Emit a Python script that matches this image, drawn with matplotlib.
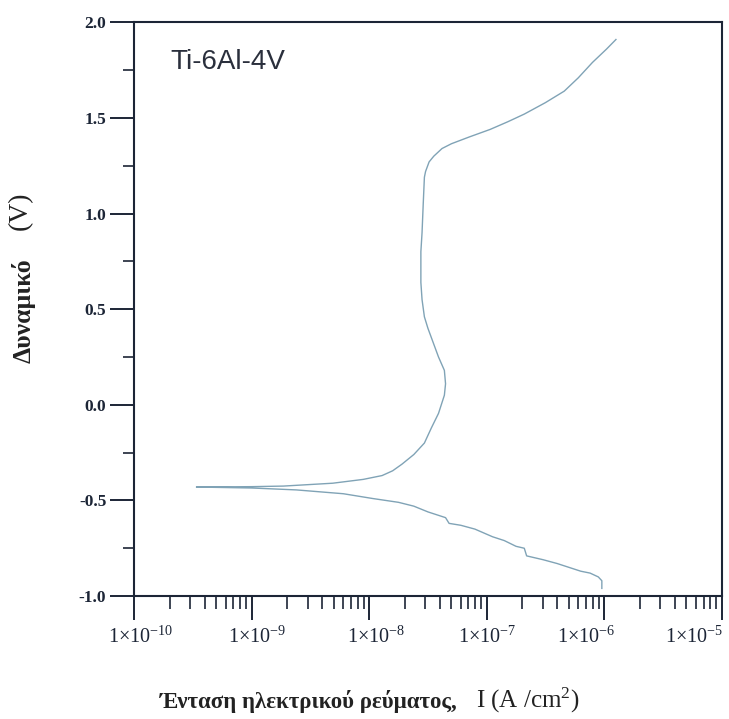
import numpy as np
import matplotlib
matplotlib.use("Agg")
import matplotlib.pyplot as plt
from matplotlib.ticker import FixedLocator, LogLocator, NullFormatter, MultipleLocator, FormatStrFormatter
import matplotlib.transforms as mtransforms

# =========================
# DATA
# =========================

# cathodic branch: from the high-current end down to the Ecorr tip
CATH_LOG_I = [-6.02, -6.02, -6.05, -6.12, -6.20, -6.30, -6.40, -6.52, -6.66, -6.68,
              -6.75, -6.85, -6.95, -7.10, -7.22, -7.32, -7.35, -7.50, -7.62, -7.75,
              -7.97, -8.22, -8.62, -9.00, -9.47]
CATH_E = [-0.96, -0.92, -0.90, -0.88, -0.87, -0.85, -0.83, -0.81, -0.79, -0.75,
          -0.74, -0.71, -0.69, -0.65, -0.63, -0.62, -0.59, -0.56, -0.53, -0.51,
          -0.49, -0.465, -0.445, -0.435, -0.43]

# anodic branch: from the tip up to the transpassive end
ANOD_LOG_I = [-9.00, -8.73, -8.31, -8.05, -7.89, -7.80, -7.72, -7.62, -7.53, -7.47,
              -7.41, -7.36, -7.35, -7.36, -7.41, -7.44, -7.50, -7.53, -7.55, -7.56,
              -7.56, -7.55, -7.54, -7.53, -7.52, -7.49, -7.45, -7.38, -7.30, -7.15,
              -6.97, -6.82, -6.68, -6.50, -6.34, -6.22, -6.10, -5.98, -5.90]
ANOD_E = [-0.428, -0.425, -0.41, -0.39, -0.37, -0.345, -0.31, -0.26, -0.20, -0.12,
          -0.045, 0.05, 0.11, 0.18, 0.25, 0.30, 0.40, 0.46, 0.55, 0.64,
          0.80, 0.90, 1.05, 1.19, 1.22, 1.27, 1.30, 1.34, 1.365, 1.40,
          1.44, 1.48, 1.52, 1.58, 1.64, 1.71, 1.79, 1.86, 1.91]

X_DECADES = [1e-10, 1e-9, 1e-8, 1e-7, 1e-6, 1e-5]
X_TICK_LABELS = [r"1$\times$10$^{-10}$", r"1$\times$10$^{-9}$", r"1$\times$10$^{-8}$",
                 r"1$\times$10$^{-7}$", r"1$\times$10$^{-6}$", r"1$\times$10$^{-5}$"]
# the scan has the last labels sitting left of their ticks (pixels)
X_LABEL_SHIFT = [6, 5, 7, 0, -18, -28]

ALLOY = "Ti-6Al-4V"

# =========================
# STYLE
# =========================

plt.rcParams["font.family"] = ["Liberation Serif", "DejaVu Serif"]
plt.rcParams["mathtext.fontset"] = "custom"
plt.rcParams["mathtext.rm"] = "Liberation Serif"
plt.rcParams["mathtext.it"] = "Liberation Serif:italic"
plt.rcParams["mathtext.bf"] = "Liberation Serif:bold"
plt.rcParams["axes.unicode_minus"] = False

AXIS_COLOR = "#1c2536"
CURVE_COLOR = "#80a3b6"


def main():

    fig = plt.figure(figsize=(7.29, 7.19), dpi=100)
    ax = fig.add_axes([0.184, 0.171, 0.806, 0.798])

    current = 10.0 ** np.array(CATH_LOG_I + ANOD_LOG_I)
    potential = np.array(CATH_E + ANOD_E)

    ax.plot(current, potential, color=CURVE_COLOR, linewidth=1.0)

    ax.set_xscale("log")
    ax.set_xlim(1e-10, 1e-5)
    ax.set_ylim(-1.0, 2.0)

    # =========================
    # TICKS
    # =========================

    ax.xaxis.set_major_locator(FixedLocator(X_DECADES))
    ax.set_xticklabels(X_TICK_LABELS)
    ax.xaxis.set_minor_locator(LogLocator(base=10, subs=np.arange(2, 10)))
    ax.xaxis.set_minor_formatter(NullFormatter())

    ax.yaxis.set_major_locator(MultipleLocator(0.5))
    ax.yaxis.set_minor_locator(MultipleLocator(0.25))
    ax.yaxis.set_major_formatter(FormatStrFormatter("%.1f"))

    ax.tick_params(axis="x", which="major", direction="out", length=17, width=1.4,
                   color=AXIS_COLOR, labelsize=14.5, pad=5)
    ax.tick_params(axis="x", which="minor", direction="out", length=9, width=1.2,
                   color=AXIS_COLOR)
    ax.tick_params(axis="y", which="major", direction="out", length=17, width=1.4,
                   color=AXIS_COLOR, labelsize=12.5, pad=3)
    ax.tick_params(axis="y", which="minor", direction="out", length=8, width=1.2,
                   color=AXIS_COLOR)

    for lab in ax.get_yticklabels():
        lab.set_fontweight("bold")
        lab.set_color(AXIS_COLOR)

    for lab, dx in zip(ax.get_xticklabels(), X_LABEL_SHIFT):
        lab.set_color(AXIS_COLOR)
        offset = mtransforms.ScaledTranslation(dx / 100.0, 0, fig.dpi_scale_trans)
        lab.set_transform(lab.get_transform() + offset)

    for spine in ax.spines.values():
        spine.set_linewidth(1.5)
        spine.set_color(AXIS_COLOR)

    # =========================
    # TEXT
    # =========================

    ax.text(0.062, 0.953, ALLOY, transform=ax.transAxes, ha="left", va="top",
            fontsize=20, family="Liberation Sans", color="#2a2f3c")

    fig.text(24 / 729, 1 - 311 / 719, "Δυναμικό", rotation=90, ha="center", va="center",
             fontsize=18.5, fontweight="bold", color="#222222")
    fig.text(20 / 729, 1 - 211 / 719, "(V)", rotation=90, ha="center", va="center",
             fontsize=20, color="#222222")

    fig.text(160 / 729, 1 - 708 / 719, "Ένταση ηλεκτρικού ρεύματος,",
             ha="left", va="baseline", fontsize=16.5, fontweight="bold", color="#222222")
    fig.text(476 / 729, 1 - 708 / 719, r"I (A /cm$^{2}$)",
             ha="left", va="baseline", fontsize=18, color="#222222")

    fig.savefig("out.png", dpi=100, facecolor="white")


if __name__ == "__main__":
    main()
